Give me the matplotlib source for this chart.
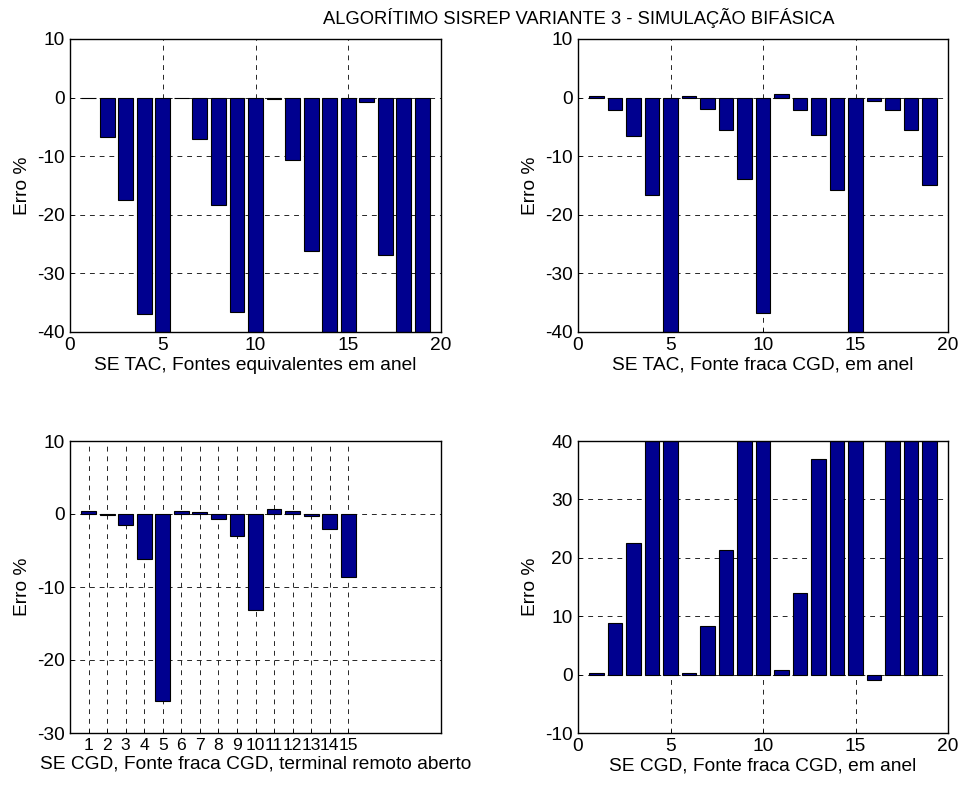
import numpy as np
import matplotlib.pyplot as plt

plt.rcParams['font.family'] = ['Liberation Sans', 'DejaVu Sans']
plt.rcParams['font.size'] = 13.8
plt.rcParams['axes.unicode_minus'] = False

casos = np.arange(1, 20)
casos_aberto = np.arange(1, 16)

# erro percentual por caso (valores fora da escala ficam cortados no eixo)
erro_tac_anel = [-0.1, -6.7, -17.5, -36.9, -48.0, -0.1, -7.1, -18.3, -36.6, -55.0,
                 -0.3, -10.7, -26.1, -45.0, -52.0, -0.8, -26.8, -47.0, -58.0]
erro_tac_fraca = [0.2, -2.1, -6.6, -16.6, -45.0, 0.2, -1.9, -5.6, -13.9, -36.8,
                  0.6, -2.1, -6.4, -15.7, -44.0, -0.6, -2.1, -5.6, -14.9]
erro_cgd_aberto = [0.45, -0.2, -1.45, -6.2, -25.6, 0.45, 0.25, -0.65, -3.05, -13.1,
                   0.7, 0.45, -0.25, -2.0, -8.65]
erro_cgd_anel = [0.2, 8.85, 22.5, 48.0, 55.0, 0.2, 8.4, 21.3, 47.0, 60.0,
                 0.8, 13.9, 37.0, 46.0, 52.0, -1.0, 49.0, 56.0, 62.0]

titulo = 'ALGORÍTIMO SISREP VARIANTE 3 - SIMULAÇÃO BIFÁSICA'
rotulos = ['SE TAC, Fontes equivalentes em anel',
           'SE TAC, Fonte fraca CGD, em anel',
           'SE CGD, Fonte fraca CGD, terminal remoto aberto',
           'SE CGD, Fonte fraca CGD, em anel']

azul = (0, 0, 0.5625)

fig = plt.figure(figsize=(9.61, 7.87), dpi=100)
W, H = 961.0, 787.0
pos = [(70, 39, 441, 332), (578, 39, 948, 332),
       (70, 441, 441, 733), (578, 441, 948, 733)]
axs = [fig.add_axes([x0 / W, 1 - y1 / H, (x1 - x0) / W, (y1 - y0) / H])
       for x0, y0, x1, y1 in pos]

dados = [(casos, erro_tac_anel, (-40, 10)),
         (casos, erro_tac_fraca, (-40, 10)),
         (casos_aberto, erro_cgd_aberto, (-30, 10)),
         (casos, erro_cgd_anel, (-10, 40))]

for ax, (x, y, lim), rot in zip(axs, dados, rotulos):
    ax.bar(x, y, width=0.8, color=azul, edgecolor='black', linewidth=0.8)
    ax.set_xlim(0, 20)
    ax.set_ylim(*lim)
    ax.set_xticks(np.arange(0, 21, 5))
    ax.set_yticks(np.arange(lim[0], lim[1] + 1, 10))
    ax.set_axisbelow(True)
    ax.grid(True, color='0.15', linestyle=(0, (5, 5)), linewidth=0.7)
    ax.tick_params(direction='in', length=3, width=0.6)
    ax.tick_params(axis='x', pad=3.5)
    ax.tick_params(axis='y', pad=4)
    for s in ax.spines.values():
        s.set_linewidth(1.0)
    ax.set_ylabel('Erro %', labelpad=4)
    ax.set_xlabel(rot, labelpad=2)

# casos 1..15 um a um: rótulos apertados
axs[2].set_xticks(casos_aberto)
axs[2].tick_params(axis='x', labelsize=12.6)

fig.text(578.5 / W, 1 - 18 / H, titulo, ha='center', va='center', fontsize=13.2)

fig.savefig('out.png', dpi=100)
